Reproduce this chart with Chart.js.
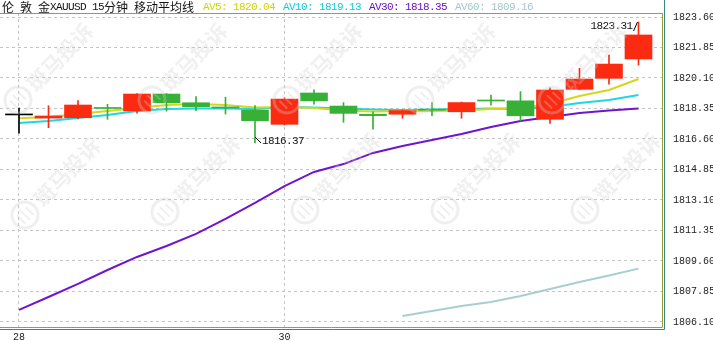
<!DOCTYPE html>
<html><head><meta charset="utf-8">
<script src="https://cdn.jsdelivr.net/npm/chart.js@4/dist/chart.umd.min.js"></script>
<style>html,body{margin:0;padding:0;background:#fff;overflow:hidden}#c{display:block}</style>
</head><body>
<canvas id="c" width="713" height="341"></canvas>
<script>
// ---- data ----
const titleText = '伦 敦 金XAUUSD 15分钟 移动平均线';
const watermarkText = '斑马投诉';
const xTickIndex = [0, 9];
const xTickLabels = ['28', '30'];
const yTicks = [1806.10, 1807.85, 1809.60, 1811.35, 1813.10, 1814.85, 1816.60, 1818.35, 1820.10, 1821.85, 1823.60];

const opens  = [1817.98, 1817.80, 1817.82, 1818.37, 1818.21, 1819.18, 1818.68, 1818.40, 1818.26, 1817.44, 1819.24, 1818.49, 1818.02, 1818.02, 1818.27, 1818.16, 1818.80, 1818.79, 1817.73, 1819.45, 1820.08, 1821.19];
const highs  = [1818.38, 1818.51, 1818.80, 1818.59, 1819.20, 1819.20, 1819.04, 1819.00, 1818.51, 1818.95, 1819.42, 1818.69, 1818.16, 1818.26, 1818.69, 1818.72, 1819.12, 1819.32, 1819.54, 1820.66, 1821.42, 1823.31];
const lows   = [1816.94, 1817.25, 1817.75, 1817.73, 1818.08, 1818.20, 1818.22, 1818.03, 1816.37, 1817.40, 1818.60, 1817.56, 1817.16, 1817.79, 1817.94, 1817.79, 1818.54, 1817.65, 1817.50, 1819.42, 1819.75, 1820.84];
const closes = [1817.98, 1817.92, 1818.55, 1818.35, 1819.18, 1818.68, 1818.45, 1818.38, 1817.65, 1818.89, 1818.79, 1818.07, 1817.94, 1818.23, 1818.25, 1818.69, 1818.78, 1817.93, 1819.41, 1820.04, 1820.90, 1822.57];

const av5  = [1817.79, 1817.86, 1818.03, 1818.21, 1818.38, 1818.55, 1818.61, 1818.55, 1818.41, 1818.43, 1818.38, 1818.23, 1818.18, 1818.21, 1818.21, 1818.23, 1818.32, 1818.38, 1818.61, 1819.07, 1819.41, 1820.04];
const av10 = [1817.52, 1817.63, 1817.80, 1817.98, 1818.21, 1818.32, 1818.35, 1818.35, 1818.32, 1818.43, 1818.41, 1818.35, 1818.29, 1818.26, 1818.29, 1818.32, 1818.35, 1818.32, 1818.43, 1818.66, 1818.84, 1819.13];
const av30 = [1806.79, 1807.53, 1808.28, 1809.08, 1809.83, 1810.46, 1811.15, 1812.01, 1812.93, 1813.90, 1814.71, 1815.16, 1815.80, 1816.20, 1816.54, 1816.89, 1817.29, 1817.63, 1817.86, 1818.09, 1818.24, 1818.35];
const av60 = [null, null, null, null, null, null, null, null, null, null, null, null, null, 1806.44, 1806.73, 1807.02, 1807.25, 1807.59, 1807.99, 1808.39, 1808.77, 1809.16];

// ---- styles ----
const UP = '#fb2b12', DOWN = '#36b036', FLAT = '#000000';
const maColors = ['#d6d61c', '#1fd6e4', '#6f14d2', '#a8cfcf'];
const maLegendColors = ['#d2d200', '#14c8d8', '#6a10c8', '#a4c8c8'];
const maNames = ['AV5', 'AV10', 'AV30', 'AV60'];
const maSeries = [av5, av10, av30, av60];

const idx = opens.map((_, i) => i);
const candleColor = i => closes[i] > opens[i] ? UP : (closes[i] < opens[i] ? DOWN : FLAT);

function pts(arr) { return idx.filter(i => arr[i] !== null).map(i => ({ x: i, y: arr[i] })); }

const datasets = [];
maSeries.forEach((arr, k) => {
  datasets.push({
    type: 'line', data: pts(arr), borderColor: maColors[k], borderWidth: 2,
    pointRadius: 0, tension: 0, fill: false, order: 5
  });
});
datasets.push({
  type: 'bar', data: idx.map(i => ({ x: i, y: [lows[i], highs[i]] })),
  backgroundColor: c => candleColor(c.dataIndex), barThickness: 1, grouped: false, order: 2, borderWidth: 0
});
datasets.push({
  type: 'bar', data: idx.map(i => ({ x: i, y: [opens[i], closes[i]] })),
  backgroundColor: c => candleColor(c.dataIndex), barThickness: 27, grouped: false, order: 1,
  borderWidth: 0, minBarLength: 1
});

function drawMixed(ctx, str, x, y, color) {
  ctx.fillStyle = color; ctx.textBaseline = 'middle'; ctx.textAlign = 'left';
  for (const ch of str) {
    const wide = ch.charCodeAt(0) > 255;
    ctx.font = wide ? '12px "Noto Sans CJK SC"' : '11px "Liberation Mono"';
    if (ch !== ' ') ctx.fillText(ch, x, y);
    x += wide ? 12 : 6;
  }
  return x;
}

function drawWatermark(ctx, cx, cy) {
  ctx.save();
  ctx.translate(cx, cy);
  ctx.rotate(-0.8);
  ctx.strokeStyle = 'rgba(205,205,205,0.32)';
  ctx.lineWidth = 3;
  ctx.beginPath(); ctx.arc(0, 0, 13, 0, Math.PI * 2); ctx.stroke();
  ctx.lineWidth = 2;
  ctx.beginPath(); ctx.moveTo(-6, -5); ctx.lineTo(-6, 6); ctx.moveTo(0, -7); ctx.lineTo(0, 7); ctx.moveTo(6, -5); ctx.lineTo(6, 6); ctx.stroke();
  ctx.fillStyle = 'rgba(205,205,205,0.3)';
  ctx.font = 'bold 21px "Noto Sans CJK SC"';
  ctx.textBaseline = 'middle'; ctx.textAlign = 'left';
  ctx.fillText(watermarkText, 18, 0);
  ctx.restore();
}

const decor = {
  id: 'decor',
  afterDatasetsDraw(chart) {
    const ctx = chart.ctx, xs = chart.scales.x, ys = chart.scales.y;
    ctx.save();
    let lo = 0, hi = 0;
    idx.forEach(i => { if (lows[i] < lows[lo]) lo = i; if (highs[i] > highs[hi]) hi = i; });
    ctx.strokeStyle = '#000'; ctx.lineWidth = 1;
    let px = xs.getPixelForValue(lo), py = ys.getPixelForValue(lows[lo]);
    ctx.beginPath(); ctx.moveTo(px, py - 6); ctx.lineTo(px + 6, py); ctx.stroke();
    drawMixed(ctx, lows[lo].toFixed(2), px + 7, py - 2, '#111');
    px = xs.getPixelForValue(hi); py = ys.getPixelForValue(highs[hi]);
    ctx.beginPath(); ctx.moveTo(px - 1, py); ctx.lineTo(px - 5, py + 9); ctx.stroke();
    drawMixed(ctx, highs[hi].toFixed(2), px - 48, py + 4, '#111');
    ctx.restore();
  },
  afterDraw(chart) {
    const ctx = chart.ctx, a = chart.chartArea;
    ctx.save();
    ctx.beginPath(); ctx.rect(a.left, a.top, a.right - a.left, a.bottom - a.top); ctx.clip();
    [[18, 100], [152, 100], [287, 100], [420, 100], [552, 100],
     [25, 215], [165, 212], [305, 210], [445, 210], [585, 210]].forEach(p => drawWatermark(ctx, p[0], p[1]));
    ctx.restore();
    ctx.save();
    ctx.lineWidth = 1;
    ctx.strokeStyle = '#a09c3a';
    ctx.beginPath();
    ctx.moveTo(0, a.top + 0.5); ctx.lineTo(a.right + 0.5, a.top + 0.5);
    ctx.lineTo(a.right + 0.5, a.bottom + 0.5); ctx.lineTo(0, a.bottom + 0.5);
    ctx.stroke();
    ctx.strokeStyle = '#2f8a8a';
    ctx.beginPath();
    ctx.moveTo(a.right + 2.5, 0); ctx.lineTo(a.right + 2.5, a.bottom + 2.5); ctx.lineTo(0, a.bottom + 2.5);
    ctx.stroke();
    let x = drawMixed(ctx, titleText, 2, 7, '#111');
    x += 9;
    maSeries.forEach((arr, k) => {
      x = drawMixed(ctx, maNames[k] + ': ' + arr[arr.length - 1].toFixed(2), x, 7, maLegendColors[k]);
      x += 8;
    });
    ctx.restore();
  }
};

new Chart(document.getElementById('c'), {
  type: 'line',
  data: { datasets },
  plugins: [decor],
  options: {
    responsive: false, animation: false,
    layout: { padding: { top: 13, left: 0, right: 0, bottom: 0 } },
    plugins: { legend: { display: false }, tooltip: { enabled: false } },
    scales: {
      x: {
        type: 'linear', min: -0.644, max: 21.797, offset: false,
        afterBuildTicks: s => { s.ticks = xTickIndex.map(v => ({ value: v })); },
        afterFit: s => { s.height = 14; },
        ticks: { padding: 4, autoSkip: false, maxRotation: 0, color: '#222',
          font: { family: 'Liberation Mono', size: 10 },
          callback: (v, i) => xTickLabels[i] },
        grid: { color: '#c4c4c4', drawTicks: false, offset: false },
        border: { display: false, dash: [3, 3] }
      },
      y: {
        type: 'linear', position: 'right', min: 1805.81, max: 1823.83,
        afterBuildTicks: s => { s.ticks = yTicks.map(v => ({ value: v })); },
        afterFit: s => { s.width = 51; },
        ticks: { padding: 0, color: '#222', font: { family: 'Liberation Mono', size: 10 },
          callback: v => Number(v).toFixed(2) },
        grid: { color: '#c4c4c4', drawTicks: true, tickLength: 11, tickColor: 'rgba(0,0,0,0)' },
        border: { display: false, dash: [3, 3] }
      }
    }
  }
});
</script>
</body></html>
